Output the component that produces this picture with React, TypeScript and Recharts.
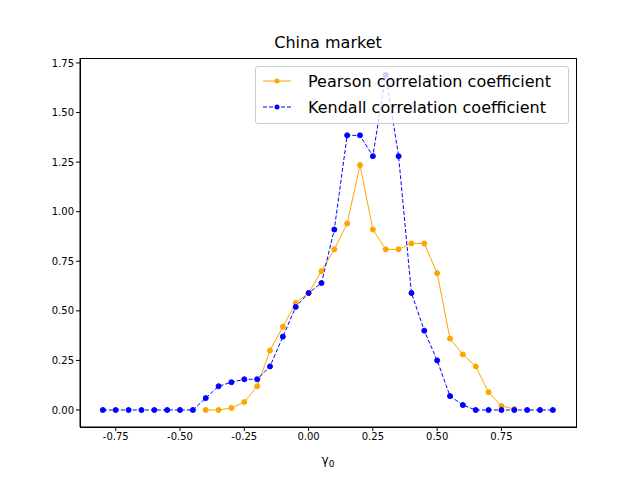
import { LineChart, Line, XAxis, YAxis } from "recharts";

const gammas = [
  -0.8, -0.75, -0.7, -0.65, -0.6, -0.55, -0.5, -0.45, -0.4, -0.35, -0.3, -0.25,
  -0.2, -0.15, -0.1, -0.05, 0, 0.05, 0.1, 0.15, 0.2, 0.25, 0.3, 0.35, 0.4, 0.45,
  0.5, 0.55, 0.6, 0.65, 0.7, 0.75, 0.8, 0.85, 0.9, 0.95,
];
const kendall = [
  0, 0, 0, 0, 0, 0, 0, 0, 0.06, 0.12, 0.14, 0.155, 0.155, 0.22, 0.37, 0.52,
  0.59, 0.64, 0.91, 1.385, 1.385, 1.28, 1.69, 1.28, 0.59, 0.4, 0.25, 0.07,
  0.025, 0, 0, 0, 0, 0, 0, 0,
];
const pearson = [
  null, null, null, null, null, null, null, null, 0, 0, 0.01, 0.04, 0.12, 0.3,
  0.42, 0.54, 0.59, 0.7, 0.81, 0.94, 1.235, 0.91, 0.81, 0.81, 0.84, 0.84, 0.69,
  0.36, 0.28, 0.22, 0.09, 0.02, 0.005, null, null, null,
];
const xTicks = [-0.75, -0.5, -0.25, 0, 0.25, 0.5, 0.75];
const yTicks = [0, 0.25, 0.5, 0.75, 1, 1.25, 1.5, 1.75];

const data = gammas.map((g, i) => ({ g, pearson: pearson[i], kendall: kendall[i] }));
const font = "DejaVu Sans";

export default function App() {
  return (
    <div style={{ position: "absolute", left: 0, top: 0, width: 640, height: 480, background: "#fff", fontFamily: font }}>
      <LineChart width={640} height={480} data={data} margin={{ top: 58, right: 64, bottom: 0, left: 0 }}>
        <XAxis
          dataKey="g"
          type="number"
          domain={[-0.889, 1.04]}
          ticks={xTicks}
          allowDataOverflow
          height={53}
          stroke="#000"
          tick={{ fill: "#000", fontSize: 10, fontFamily: font }}
          tickFormatter={(v) => v.toFixed(2)}
          tickSize={4}
        />
        <YAxis
          type="number"
          domain={[-0.0857, 1.775]}
          ticks={yTicks}
          allowDataOverflow
          width={80}
          stroke="#000"
          tick={{ fill: "#000", fontSize: 10, fontFamily: font }}
          tickFormatter={(v) => v.toFixed(2)}
          tickSize={4}
        />
        <Line dataKey="pearson" stroke="orange" strokeWidth={1} dot={{ r: 2.5, fill: "orange", stroke: "orange" }} isAnimationActive={false} />
        <Line dataKey="kendall" stroke="blue" strokeWidth={1} strokeDasharray="4 2" dot={{ r: 2.5, fill: "blue", stroke: "blue", strokeDasharray: "" }} isAnimationActive={false} />
      </LineChart>
      <div style={{ position: "absolute", left: 80, top: 58, width: 495, height: 368, border: "1px solid #000", pointerEvents: "none" }} />
      <div style={{ position: "absolute", top: 33, left: 80, width: 496, textAlign: "center", fontSize: 16 }}>China market</div>
      <div style={{ position: "absolute", top: 453, left: 80, width: 496, textAlign: "center", fontSize: 12 }}>
        γ<sub style={{ fontSize: 9 }}>0</sub>
      </div>
      <div style={{ position: "absolute", left: 255, top: 66, width: 312, height: 56, border: "1px solid #ccc", borderRadius: 3, background: "rgba(255,255,255,0.8)", fontSize: 16 }}>
        {[
          { label: "Pearson correlation coefficient", color: "orange", dash: "" },
          { label: "Kendall correlation coefficient", color: "blue", dash: "4 2" },
        ].map((e, i) => (
          <div key={i} style={{ position: "absolute", left: 6, top: 3 + i * 26, display: "flex", alignItems: "center", height: 22 }}>
            <svg width={30} height={10}>
              <line x1={1} y1={5} x2={29} y2={5} stroke={e.color} strokeDasharray={e.dash} />
              <circle cx={15} cy={5} r={2.5} fill={e.color} />
            </svg>
            <span style={{ marginLeft: 16 }}>{e.label}</span>
          </div>
        ))}
      </div>
    </div>
  );
}
